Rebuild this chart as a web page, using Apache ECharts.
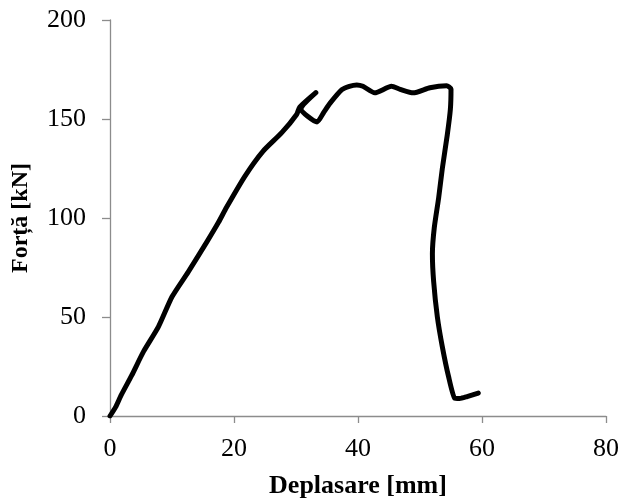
<!DOCTYPE html>
<html>
<head>
<meta charset="utf-8">
<script src="https://cdn.jsdelivr.net/npm/echarts@6/dist/echarts.min.js"></script>
<style>html,body{margin:0;padding:0;background:#fff;}#c{width:623px;height:504px;}</style>
</head>
<body>
<div id="c"></div>
<script>
const displacement = [0, 0.9, 1.8, 3.5, 5.4, 7.8, 10.0, 12.6, 15.6, 17.5, 18.8, 21.8, 24.7, 27.7, 30.1, 30.6, 33.2, 30.8, 33.4, 34.5, 35.5, 37.4, 38.6, 39.8, 40.8, 42.7, 45.4, 46.8, 48.9, 51.6, 54.3, 55.0, 54.9, 54.4, 53.6, 53.0, 52.3, 52.0, 52.2, 52.8, 53.6, 54.6, 55.6, 56.4, 57.6, 59.4];
const force =        [0, 4.5, 10.5, 20.5, 32.5, 45.0, 60.2, 72.7, 87.8, 97.8, 105.4, 121.3, 133.8, 143.1, 152.3, 156.0, 163.3, 155.0, 148.5, 153.5, 158.0, 164.8, 166.5, 167.2, 166.5, 163.2, 166.5, 165.0, 163.2, 165.8, 166.8, 165.2, 155.0, 142.0, 125.0, 110.0, 95.0, 82.0, 68.0, 50.0, 35.0, 20.0, 9.0, 8.8, 9.8, 11.6];
const xTicks = [0, 20, 40, 60, 80];
const yTicks = [0, 50, 100, 150, 200];
const xTitle = 'Deplasare [mm]';
const yTitle = 'Forță [kN]';

const points = displacement.map((x, i) => [x, force[i]]);
const chart = echarts.init(document.getElementById('c'), null, {renderer: 'canvas'});
const font = '"Liberation Serif", "Times New Roman", serif';
chart.setOption({
  animation: false,
  grid: {left: 110, top: 20, width: 496, height: 398, containLabel: false},
  xAxis: {
    type: 'value', min: xTicks[0], max: xTicks[xTicks.length - 1], interval: 20,
    name: xTitle, nameLocation: 'middle', nameGap: 57,
    nameTextStyle: {fontFamily: font, fontSize: 26, fontWeight: 'bold', color: '#000'},
    axisLine: {show: true, lineStyle: {color: '#8c8c8c', width: 1.3}},
    axisTick: {show: true, inside: false, length: 7, lineStyle: {color: '#8c8c8c', width: 1.3}},
    axisLabel: {fontFamily: font, fontSize: 26, color: '#000', margin: 20},
    splitLine: {show: false}
  },
  yAxis: {
    type: 'value', min: yTicks[0], max: yTicks[yTicks.length - 1], interval: 50,
    name: yTitle, nameLocation: 'middle', nameGap: 77, nameRotate: 90,
    nameTextStyle: {fontFamily: font, fontSize: 24, fontWeight: 'bold', color: '#000'},
    axisLine: {show: true, lineStyle: {color: '#8c8c8c', width: 1.3}},
    axisTick: {show: true, inside: false, length: 8, lineStyle: {color: '#8c8c8c', width: 1.3}},
    axisLabel: {fontFamily: font, fontSize: 26, color: '#000', margin: 24},
    splitLine: {show: false}
  },
  series: [{
    type: 'line', data: points, showSymbol: false, smooth: 0.2,
    lineStyle: {color: '#000', width: 5, cap: 'round', join: 'round'}
  }]
});
</script>
</body>
</html>
